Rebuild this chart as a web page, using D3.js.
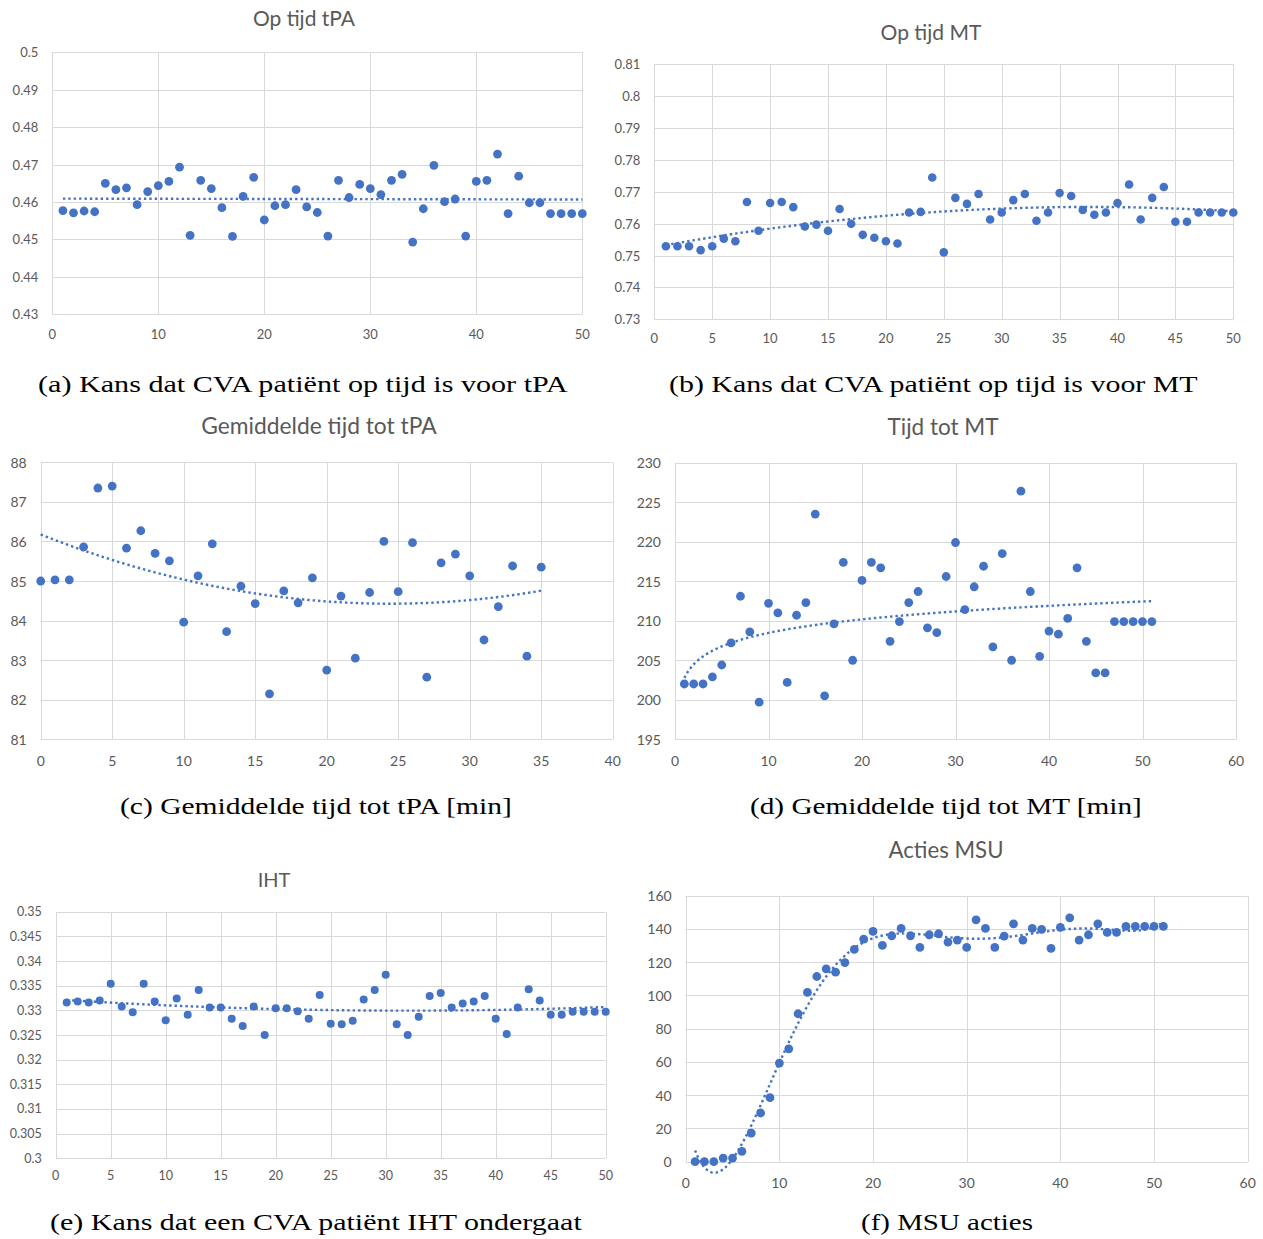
<!DOCTYPE html>
<html>
<head>
<meta charset="utf-8">
<script src="https://cdn.jsdelivr.net/npm/d3@7"></script>
<style>
  html, body { margin: 0; padding: 0; background: #fff; }
  svg { display: block; }
</style>
</head>
<body>
<svg id="fig" width="1263" height="1239"></svg>
<script>
// ---- Simulation results per number of MSUs --------------------------------

// (a) probability that a stroke patient is on time for tPA (runs 1..50)
const tpaOnTime = [
  0.4577, 0.4571, 0.4576, 0.4574, 0.4650, 0.4633, 0.4638, 0.4593, 0.4628, 0.4644,
  0.4655, 0.4693, 0.4511, 0.4658, 0.4636, 0.4585, 0.4508, 0.4615, 0.4666, 0.4552,
  0.4590, 0.4593, 0.4633, 0.4587, 0.4572, 0.4509, 0.4658, 0.4612, 0.4647, 0.4636,
  0.4620, 0.4658, 0.4674, 0.4493, 0.4582, 0.4698, 0.4601, 0.4608, 0.4509, 0.4655,
  0.4658, 0.4728, 0.4569, 0.4669, 0.4598, 0.4598, 0.4569, 0.4569, 0.4569, 0.4569
];
const tpaOnTimeXTicks = [0, 10, 20, 30, 40, 50];
const tpaOnTimeYTicks = [0.43, 0.44, 0.45, 0.46, 0.47, 0.48, 0.49, 0.5];

// (b) probability that a stroke patient is on time for MT (runs 1..50)
const mtOnTime = [
  0.7529, 0.7529, 0.7529, 0.7517, 0.7529, 0.7553, 0.7545, 0.7668, 0.7578, 0.7665,
  0.7668, 0.7652, 0.7591, 0.7597, 0.7578, 0.7646, 0.7600, 0.7565, 0.7556, 0.7545,
  0.7538, 0.7635, 0.7637, 0.7745, 0.7510, 0.7681, 0.7662, 0.7693, 0.7613, 0.7635,
  0.7674, 0.7693, 0.7609, 0.7635, 0.7696, 0.7687, 0.7643, 0.7628, 0.7635, 0.7665,
  0.7723, 0.7613, 0.7681, 0.7715, 0.7606, 0.7606, 0.7635, 0.7635, 0.7635, 0.7635
];
const mtOnTimeXTicks = [0, 5, 10, 15, 20, 25, 30, 35, 40, 45, 50];
const mtOnTimeYTicks = [0.73, 0.74, 0.75, 0.76, 0.77, 0.78, 0.79, 0.8, 0.81];

// (c) mean time to tPA in minutes (runs 0..35)
const tpaMeanTime = [
  85.00, 85.03, 85.03, 85.86, 87.35, 87.40, 85.83, 86.27, 85.70, 85.51,
  83.96, 85.13, 85.94, 83.72, 84.87, 84.43, 82.15, 84.75, 84.45, 85.08,
  82.75, 84.62, 83.05, 84.71, 86.00, 84.73, 85.97, 82.57, 85.46, 85.68,
  85.13, 83.51, 84.35, 85.38, 83.10, 85.35
];
const tpaMeanTimeXTicks = [0, 5, 10, 15, 20, 25, 30, 35, 40];
const tpaMeanTimeYTicks = [81, 82, 83, 84, 85, 86, 87, 88];

// (d) mean time to MT in minutes (runs 1..51)
const mtMeanTime = [
  202.0, 202.0, 202.0, 202.9, 204.4, 207.2, 213.1, 208.6, 199.7, 212.2,
  211.0, 202.2, 210.7, 212.3, 223.5, 200.5, 209.6, 217.4, 205.0, 215.1,
  217.4, 216.7, 207.4, 209.9, 212.3, 213.7, 209.1, 208.5, 215.6, 219.9,
  211.4, 214.3, 216.9, 206.7, 218.5, 205.0, 226.4, 213.7, 205.5, 208.7,
  208.3, 210.3, 216.7, 207.4, 203.4, 203.4, 209.9, 209.9, 209.9, 209.9, 209.9
];
const mtMeanTimeXTicks = [0, 10, 20, 30, 40, 50, 60];
const mtMeanTimeYTicks = [195, 200, 205, 210, 215, 220, 225, 230];

// (e) probability that a stroke patient undergoes IHT (runs 1..50)
const ihtChance = [
  0.3316, 0.3318, 0.3316, 0.3320, 0.3354, 0.3308, 0.3296, 0.3354, 0.3318, 0.3280,
  0.3324, 0.3291, 0.3341, 0.3306, 0.3306, 0.3283, 0.3268, 0.3308, 0.3250, 0.3304,
  0.3304, 0.3298, 0.3283, 0.3331, 0.3273, 0.3272, 0.3279, 0.3322, 0.3341, 0.3372,
  0.3272, 0.3250, 0.3287, 0.3329, 0.3335, 0.3306, 0.3314, 0.3318, 0.3329, 0.3283,
  0.3252, 0.3306, 0.3343, 0.3320, 0.3291, 0.3291, 0.3297, 0.3297, 0.3297, 0.3297
];
const ihtChanceXTicks = [0, 5, 10, 15, 20, 25, 30, 35, 40, 45, 50];
const ihtChanceYTicks = [0.3, 0.305, 0.31, 0.315, 0.32, 0.325, 0.33, 0.335, 0.34, 0.345, 0.35];

// (f) number of MSU actions (runs 1..51)
const msuActions = [
  0.0, 0.0, 0.0, 2.2, 2.2, 6.2, 17.2, 29.3, 38.5, 59.3,
  67.9, 89.0, 101.8, 111.4, 116.0, 114.0, 119.8, 127.7, 133.9, 138.5,
  130.1, 135.9, 140.3, 135.9, 128.9, 136.5, 137.1, 132.1, 133.3, 128.9,
  145.5, 140.3, 128.9, 135.7, 143.1, 133.3, 140.3, 139.7, 128.3, 140.9,
  146.7, 133.3, 136.5, 143.1, 137.9, 137.9, 141.5, 141.5, 141.5, 141.5, 141.5
];
const msuActionsXTicks = [0, 10, 20, 30, 40, 50, 60];
const msuActionsYTicks = [0, 20, 40, 60, 80, 100, 120, 140, 160];

// ---- Panel layout ----------------------------------------------------------
const panels = [
  { values: tpaOnTime, xStart: 1, xTicks: tpaOnTimeXTicks, yTicks: tpaOnTimeYTicks,
    fit: { kind: "poly", order: 1 },
    box: { l: 52.3, t: 52.3, r: 582.3, b: 314.3 }, xLabelDy: 20, tickSize: 13, dot: 4.4,
    title: "Op tijd tPA", titleAt: [304, 17], titleSize: 21,
    caption: "(a) Kans dat CVA patiënt op tijd is voor tPA", captionAt: [303, 392], captionW: 530 },
  { values: mtOnTime, xStart: 1, xTicks: mtOnTimeXTicks, yTicks: mtOnTimeYTicks,
    fit: { kind: "poly", order: 2 },
    box: { l: 654.3, t: 64.3, r: 1233.3, b: 319.3 }, xLabelDy: 19, tickSize: 13, dot: 4.3,
    title: "Op tijd MT", titleAt: [931, 31], titleSize: 21,
    caption: "(b) Kans dat CVA patiënt op tijd is voor MT", captionAt: [933.5, 392], captionW: 529 },
  { values: tpaMeanTime, xStart: 0, xTicks: tpaMeanTimeXTicks, yTicks: tpaMeanTimeYTicks,
    fit: { kind: "poly", order: 2 },
    box: { l: 40.7, t: 462.3, r: 612.7, b: 739.3 }, xLabelDy: 21, tickSize: 14, dot: 4.4,
    title: "Gemiddelde tijd tot tPA", titleAt: [319, 425], titleSize: 22.8,
    caption: "(c) Gemiddelde tijd tot tPA [min]", captionAt: [316, 814], captionW: 392 },
  { values: mtMeanTime, xStart: 1, xTicks: mtMeanTimeXTicks, yTicks: mtMeanTimeYTicks,
    fit: { kind: "log" },
    box: { l: 675, t: 462.7, r: 1236, b: 739.3 }, xLabelDy: 21, tickSize: 14, dot: 4.4,
    title: "Tijd tot MT", titleAt: [943, 426], titleSize: 22.5,
    caption: "(d) Gemiddelde tijd tot MT [min]", captionAt: [946, 814], captionW: 392 },
  { values: ihtChance, xStart: 1, xTicks: ihtChanceXTicks, yTicks: ihtChanceYTicks,
    fit: { kind: "poly", order: 2 },
    box: { l: 55.7, t: 911.7, r: 605.7, b: 1158.3 }, xLabelDy: 17, tickSize: 12.5, dot: 4.0,
    title: "IHT", titleAt: [274, 879], titleSize: 20,
    caption: "(e) Kans dat een CVA patiënt IHT ondergaat", captionAt: [316, 1230], captionW: 532 },
  { values: msuActions, xStart: 1, xTicks: msuActionsXTicks, yTicks: msuActionsYTicks,
    fit: { kind: "poly", order: 6 },
    box: { l: 685.7, t: 895.7, r: 1247.7, b: 1161.7 }, xLabelDy: 21, tickSize: 14, dot: 4.4,
    title: "Acties MSU", titleAt: [946, 849], titleSize: 22.2,
    caption: "(f) MSU acties", captionAt: [947, 1230], captionW: 172 }
];

const BLUE = "#4472C4";
const GRID = "#d9d9d9";
const LABEL = "#595959";
const SANS = "Lato, 'Open Sans', 'Noto Sans', sans-serif";
const SERIF = "'Liberation Serif', 'DejaVu Serif', serif";

// ---- Least-squares trendlines -----------------------------------------------
function solve(A, b) {
  const n = b.length;
  const M = A.map((row, i) => row.concat([b[i]]));
  for (let c = 0; c < n; c++) {
    let p = c;
    for (let r = c + 1; r < n; r++) if (Math.abs(M[r][c]) > Math.abs(M[p][c])) p = r;
    [M[c], M[p]] = [M[p], M[c]];
    for (let r = c + 1; r < n; r++) {
      const f = M[r][c] / M[c][c];
      for (let k = c; k <= n; k++) M[r][k] -= f * M[c][k];
    }
  }
  const x = new Array(n).fill(0);
  for (let r = n - 1; r >= 0; r--) {
    let s = M[r][n];
    for (let k = r + 1; k < n; k++) s -= M[r][k] * x[k];
    x[r] = s / M[r][r];
  }
  return x;
}

function polyFit(xs, ys, order) {
  const sc = d3.max(xs, Math.abs) || 1;
  const n = order + 1;
  const A = Array.from({ length: n }, () => new Array(n).fill(0));
  const b = new Array(n).fill(0);
  xs.forEach((x, i) => {
    const u = x / sc;
    const pw = [];
    for (let k = 0; k < 2 * n; k++) pw.push(Math.pow(u, k));
    for (let r = 0; r < n; r++) {
      b[r] += pw[r] * ys[i];
      for (let c = 0; c < n; c++) A[r][c] += pw[r + c];
    }
  });
  const coef = solve(A, b);
  return x => coef.reduce((s, c, k) => s + c * Math.pow(x / sc, k), 0);
}

function logFit(xs, ys) {
  const ls = xs.map(Math.log);
  const f = polyFit(ls, ys, 1);
  return x => f(Math.log(x));
}

// ---- Drawing ------------------------------------------------------------------
const svg = d3.select("#fig");

function fmt(v) { return String(+v.toFixed(4)); }

panels.forEach(p => {
  const xs = p.values.map((_, i) => p.xStart + i);
  const x = d3.scaleLinear()
    .domain(d3.extent(p.xTicks))
    .range([p.box.l, p.box.r]);
  const y = d3.scaleLinear()
    .domain(d3.extent(p.yTicks))
    .range([p.box.b, p.box.t]);

  const g = svg.append("g");

  // gridlines (the outer ones form the plot frame)
  g.append("g")
    .selectAll("line").data(p.yTicks).join("line")
    .attr("x1", p.box.l).attr("x2", p.box.r)
    .attr("y1", d => Math.round(y(d)) + 0.5).attr("y2", d => Math.round(y(d)) + 0.5)
    .attr("stroke", GRID).attr("stroke-width", 1);
  g.append("g")
    .selectAll("line").data(p.xTicks).join("line")
    .attr("y1", p.box.t).attr("y2", p.box.b)
    .attr("x1", d => Math.round(x(d)) + 0.5).attr("x2", d => Math.round(x(d)) + 0.5)
    .attr("stroke", GRID).attr("stroke-width", 1);

  // tick labels
  g.append("g")
    .selectAll("text").data(p.yTicks).join("text")
    .attr("x", p.box.l - 14).attr("y", d => y(d))
    .attr("text-anchor", "end").attr("dominant-baseline", "central")
    .attr("font-family", SANS).attr("font-size", p.tickSize).attr("fill", LABEL)
    .text(fmt);
  g.append("g")
    .selectAll("text").data(p.xTicks).join("text")
    .attr("x", d => x(d)).attr("y", p.box.b + p.xLabelDy)
    .attr("text-anchor", "middle").attr("dominant-baseline", "central")
    .attr("font-family", SANS).attr("font-size", p.tickSize).attr("fill", LABEL)
    .text(fmt);

  // chart title
  g.append("text")
    .attr("x", p.titleAt[0]).attr("y", p.titleAt[1])
    .attr("text-anchor", "middle").attr("dominant-baseline", "central")
    .attr("font-family", SANS).attr("font-size", p.titleSize).attr("fill", LABEL)
    .text(p.title);

  // markers
  g.append("g")
    .selectAll("circle").data(p.values).join("circle")
    .attr("cx", (d, i) => x(xs[i])).attr("cy", d => y(d))
    .attr("r", p.dot).attr("fill", BLUE);

  // dotted trendline
  const f = p.fit.kind === "log" ? logFit(xs, p.values) : polyFit(xs, p.values, p.fit.order);
  const [x0, x1] = d3.extent(xs);
  const samples = d3.range(0, 201).map(k => x0 + (x1 - x0) * k / 200);
  g.append("path")
    .datum(samples)
    .attr("d", d3.line().x(t => x(t)).y(t => y(f(t))))
    .attr("fill", "none").attr("stroke", BLUE).attr("stroke-width", 2.4)
    .attr("stroke-dasharray", "2.4 3.0");

  // subfigure caption, stretched horizontally to its printed width
  const cap = g.append("text")
    .attr("x", 0).attr("y", 0)
    .attr("font-family", SERIF).attr("font-size", 24).attr("fill", "#000")
    .text(p.caption);
  const w = cap.node().getComputedTextLength();
  const sx = p.captionW / w;
  cap.attr("transform",
    `translate(${p.captionAt[0] - p.captionW / 2},${p.captionAt[1]}) scale(${sx},1)`);
});
</script>
</body>
</html>
